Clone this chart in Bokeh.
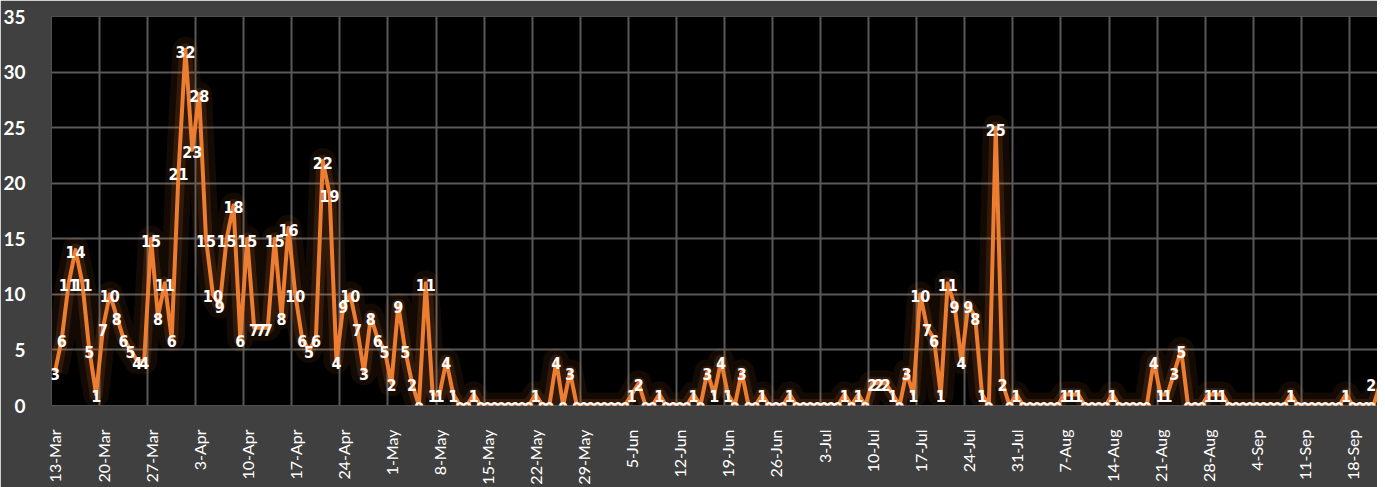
import numpy as np
from bokeh.plotting import figure
from bokeh.models import ColumnDataSource, FixedTicker, Range1d, LabelSet
from bokeh.core.properties import value
from bokeh.embed import file_html
from bokeh.resources import INLINE

# daily counts starting 13-Mar
cases = [
    3, 6, 11, 14, 11, 5, 1, 7, 10, 8, 6, 5, 4, 4,
    15, 8, 11, 6, 21, 32, 23, 28,
    15, 10, 9, 15, 18, 6, 15,
    7, 7, 7, 15, 8, 16, 10,
    6, 5, 6, 22, 19, 4, 9,
    10, 7, 3, 8, 6, 5, 2,
    9, 5, 2, 0, 11, 1, 1,
    4, 1, 0, 0, 1, 0, 0,
    0, 0, 0, 0, 0, 0, 1,
    0, 0, 4, 0, 3, 0, 0,
    0, 0, 0, 0, 0, 0, 1,
    2, 0, 0, 1, 0, 0, 0,
    0, 1, 0, 3, 1, 4, 1,
    0, 3, 0, 0, 1, 0, 0,
    0, 1, 0, 0, 0, 0, 0,
    0, 0, 1, 0, 1, 0, 2,
    2, 2, 1, 0, 3, 1, 10,
    7, 6, 1, 11, 9, 4, 9,
    8, 1, 0, 25, 2, 0, 1,
    0, 0, 0, 0, 0, 0, 1,
    1, 1, 0, 0, 0, 0, 1,
    0, 0, 0, 0, 0, 4, 1,
    1, 3, 5, 0, 0, 0, 1,
    1, 1, 0, 0, 0, 0, 0,
    0, 0, 0, 0, 1, 0, 0,
    0, 0, 0, 0, 0, 1, 0,
    0, 0, 0, 2,
]

tick_labels = ["13-Mar", "20-Mar", "27-Mar", "3-Apr", "10-Apr", "17-Apr", "24-Apr",
               "1-May", "8-May", "15-May", "22-May", "29-May", "5-Jun", "12-Jun",
               "19-Jun", "26-Jun", "3-Jul", "10-Jul", "17-Jul", "24-Jul", "31-Jul",
               "7-Aug", "14-Aug", "21-Aug", "28-Aug", "4-Sep", "11-Sep", "18-Sep"]
tick_every_days = 7
y_ticks = [0, 5, 10, 15, 20, 25, 30, 35]

n = len(cases)
x = np.arange(n) + 0.5          # each day centred between its gridlines
x_end = 193.09
label_x = np.minimum(x, x_end - 0.9)

src = ColumnDataSource(dict(x=x, y=cases, lx=label_x, txt=[str(v) for v in cases]))

p = figure(width=1377, height=487, output_backend="svg", toolbar_location=None,
           x_range=Range1d(0, x_end), y_range=Range1d(0, 35),
           min_border_left=41, min_border_right=0, min_border_top=16, min_border_bottom=81,
           background_fill_color="#000000", border_fill_color="#404040",
           outline_line_color=None)

grid_days = [k * tick_every_days for k in range(len(tick_labels))]
p.xgrid.ticker = FixedTicker(ticks=grid_days)
p.xgrid.grid_line_color = "#595959"
p.xgrid.grid_line_width = 2
p.ygrid.ticker = FixedTicker(ticks=y_ticks)
p.ygrid.grid_line_color = "#595959"
p.ygrid.grid_line_width = 2

# glow
p.line("x", "y", source=src, line_color="#ED7D31", line_width=26, line_alpha=0.08, line_join="round")
p.line("x", "y", source=src, line_color="#ED7D31", line_width=13, line_alpha=0.14, line_join="round")
p.line("x", "y", source=src, line_color="#ED7D31", line_width=4, line_join="round")

labels = LabelSet(x="lx", y="y", text="txt", source=src, text_color="white",
                  text_align="center", text_baseline="middle",
                  text_font=value("'DejaVu Sans Condensed', Roboto, sans-serif"),
                  text_font_style="bold", text_font_size="16px", y_offset=-2)
p.add_layout(labels)

xt = [d + 0.5 for d in grid_days]
p.xaxis.ticker = FixedTicker(ticks=xt)
p.xaxis.major_label_overrides = {t: lab for t, lab in zip(xt, tick_labels)}
p.xaxis.major_label_orientation = np.pi / 2
p.xaxis.major_label_text_color = "#FFFFFF"
p.xaxis.major_label_text_font = "Lato"
p.xaxis.major_label_text_font_size = "16px"
p.xaxis.major_label_standoff = 18
p.xaxis.axis_line_color = None
p.xaxis.major_tick_line_color = None
p.xaxis.minor_tick_line_color = None

p.yaxis.ticker = FixedTicker(ticks=y_ticks)
p.yaxis.major_label_text_color = "#FFFFFF"
p.yaxis.major_label_text_font = "Lato"
p.yaxis.major_label_text_font_style = "bold"
p.yaxis.major_label_text_font_size = "19px"
p.yaxis.major_label_standoff = 20
p.yaxis.axis_line_color = None
p.yaxis.major_tick_line_color = None
p.yaxis.minor_tick_line_color = None

open("out.html", "w").write(file_html(p, INLINE))
